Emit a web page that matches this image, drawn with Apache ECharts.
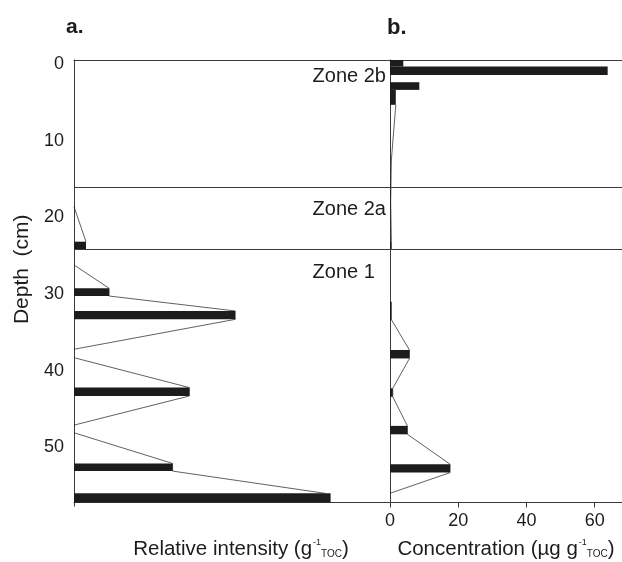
<!DOCTYPE html>
<html>
<head>
<meta charset="utf-8">
<script src="https://cdn.jsdelivr.net/npm/echarts@6/dist/echarts.min.js"></script>
<style>
html,body{margin:0;padding:0;background:#fff;}
#chart{width:622px;height:562px;}
</style>
</head>
<body>
<div id="chart"></div>
<script>
// ---- Data ----
const depthTicks = [0, 10, 20, 30, 40, 50];
const concTicks = [0, 20, 40, 60];

// Panel a: relative intensity bars (value, top depth, bottom depth)
const intensityValue  = [3.8, 11.1, 51.0, 36.5, 31.2, 81.2];
const intensityTop    = [23.16, 29.24, 32.2, 42.2, 52.1, 56.0];
const intensityBottom = [24.15, 30.25, 33.3, 43.3, 53.1, 57.2];

// Panel a: thin profile line segments [value, depth]
const intensityProfile = [
  [[0, 18.6], [3.8, 23.16]],
  [[0, 26.2], [11.1, 29.24], [11.1, 30.25], [51.0, 32.2], [51.0, 33.3], [0, 37.2]],
  [[0, 38.3], [36.5, 42.2], [36.5, 43.3], [0, 47.1]],
  [[0, 48.1], [31.2, 52.1], [31.2, 53.1], [79.4, 56.0]]
];

// Panel b: concentration bars (µg g-1 TOC)
const concValue  = [3.9, 63.8, 8.6, 1.7, 0.5, 0.5, 5.7, 0.8, 5.1, 17.6];
const concTop    = [-0.55, 0.31, 2.35, 3.35, 23.2, 31.0, 37.3, 42.3, 47.2, 52.2];
const concBottom = [0.31, 1.40, 3.35, 5.3, 24.15, 33.4, 38.4, 43.4, 48.3, 53.3];

// Panel b: thin profile line segments
const concProfile = [
  [[1.7, 5.3], [0.4, 12.5], [0.2, 18.0], [0.4, 23.2]],
  [[0.5, 33.4], [5.7, 37.3], [5.7, 38.4], [0.8, 42.3], [0.8, 43.4], [5.1, 47.2], [5.1, 48.3], [17.6, 52.2], [17.6, 53.3], [0, 56.0]]
];

// Zones
const zoneBounds = [16.1, 24.15];
const zoneNames = ['Zone 2b', 'Zone 2a', 'Zone 1'];
const zoneLabelDepths = [1.66, 18.9, 27.2];

// ---- Chart ----
const FONT = '"Liberation Sans", Arial, Helvetica, sans-serif';
const INK = '#1c1c1c';
const LINE = '#3a3a3a';
const DEPTH_MIN = -0.55, DEPTH_MAX = 57.2;

function barData(v, t, b) { return v.map((x, i) => [x, t[i], b[i]]); }

function renderBar(params, api) {
  const p0 = api.coord([0, api.value(1)]);
  const p1 = api.coord([api.value(0), api.value(2)]);
  return {
    type: 'rect',
    shape: { x: p0[0], y: p0[1], width: p1[0] - p0[0], height: p1[1] - p0[1] },
    style: { fill: INK }
  };
}

const zoneMarkLine = {
  silent: true, symbol: 'none', label: { show: false },
  lineStyle: { color: LINE, width: 1, type: 'solid' },
  data: zoneBounds.map(d => ({ yAxis: d }))
};

const series = [];
series.push({
  type: 'custom', xAxisIndex: 0, yAxisIndex: 0, renderItem: renderBar,
  encode: { x: 0, y: [1, 2] },
  data: barData(intensityValue, intensityTop, intensityBottom),
  markLine: zoneMarkLine, z: 3
});
intensityProfile.forEach(seg => series.push({
  type: 'line', xAxisIndex: 0, yAxisIndex: 0, data: seg, symbol: 'none',
  lineStyle: { color: INK, width: 0.7 }, silent: true, z: 2
}));
series.push({
  type: 'custom', xAxisIndex: 2, yAxisIndex: 1, renderItem: renderBar,
  encode: { x: 0, y: [1, 2] },
  data: barData(concValue, concTop, concBottom),
  markLine: zoneMarkLine, z: 3
});
concProfile.forEach(seg => series.push({
  type: 'line', xAxisIndex: 2, yAxisIndex: 1, data: seg, symbol: 'none',
  lineStyle: { color: INK, width: 0.7 }, silent: true, z: 2
}));
// zone labels
series.push({
  type: 'scatter', xAxisIndex: 0, yAxisIndex: 0, symbolSize: 0, silent: true,
  itemStyle: { opacity: 1 },
  data: zoneNames.map((n, i) => ({ name: n, value: [75.5, zoneLabelDepths[i]] })),
  label: { show: true, position: 'right', distance: 0, formatter: '{b}',
           fontFamily: FONT, fontSize: 20, color: INK, opacity: 1 },
  z: 5
});

const rich = {
  sup: { fontSize: 9, verticalAlign: 'top', fontFamily: FONT, color: INK, padding: [0, 0, 0, 1] },
  sub: { fontSize: 10, verticalAlign: 'bottom', fontFamily: FONT, color: INK }
};

const option = {
  backgroundColor: '#fff',
  animation: false,
  textStyle: { fontFamily: FONT },
  graphic: [
    { type: 'text', left: 66, top: 17, style: { text: 'a.', font: 'bold 21px ' + FONT, fill: INK } },
    { type: 'text', left: 387, top: 17, style: { text: 'b.', font: 'bold 22px ' + FONT, fill: INK } }
  ],
  grid: [
    { left: 74, top: 60, width: 316, height: 442.5, outerBoundsMode: 'none', containLabel: false },
    { left: 390, top: 60, width: 232, height: 442.5, outerBoundsMode: 'none', containLabel: false }
  ],
  xAxis: [
    { // a bottom
      gridIndex: 0, type: 'value', min: 0, max: 100, position: 'bottom',
      axisLine: { show: true, onZero: false, lineStyle: { color: LINE, width: 1 } },
      axisTick: { show: true, customValues: [0], length: 4, lineStyle: { color: LINE } },
      axisLabel: { show: false }, splitLine: { show: false },
      name: 'Relative intensity (g{sup|-1}{sub|TOC})',
      nameLocation: 'middle', nameGap: 36,
      nameTextStyle: { fontFamily: FONT, fontSize: 20.5, color: INK, padding: [0, 0, 0, 18], rich: rich }
    },
    { // a top border
      gridIndex: 0, type: 'value', min: 0, max: 100, position: 'top',
      axisLine: { show: true, onZero: false, lineStyle: { color: LINE, width: 1 } },
      axisTick: { show: false }, axisLabel: { show: false }, splitLine: { show: false }
    },
    { // b bottom
      gridIndex: 1, type: 'value', min: 0, max: 68, position: 'bottom',
      axisLine: { show: true, onZero: false, lineStyle: { color: LINE, width: 1 } },
      axisTick: { show: true, customValues: concTicks, length: 5, lineStyle: { color: LINE } },
      axisLabel: { show: true, customValues: concTicks, fontFamily: FONT, fontSize: 18, color: INK, margin: 10 },
      splitLine: { show: false },
      name: 'Concentration (\u00b5g g{sup|-1}{sub|TOC})',
      nameLocation: 'middle', nameGap: 36,
      nameTextStyle: { fontFamily: FONT, fontSize: 20.5, color: INK, rich: rich }
    },
    { // b top border
      gridIndex: 1, type: 'value', min: 0, max: 68, position: 'top',
      axisLine: { show: true, onZero: false, lineStyle: { color: LINE, width: 1 } },
      axisTick: { show: false }, axisLabel: { show: false }, splitLine: { show: false }
    }
  ],
  yAxis: [
    {
      gridIndex: 0, type: 'value', inverse: true, min: DEPTH_MIN, max: DEPTH_MAX,
      axisLine: { show: true, onZero: false, lineStyle: { color: LINE, width: 1 } },
      axisTick: { show: false },
      axisLabel: { show: true, customValues: depthTicks, fontFamily: FONT, fontSize: 18, color: INK, margin: 10, padding: [4, 0, 0, 0] },
      splitLine: { show: false },
      name: 'Depth  (cm)', nameLocation: 'middle', nameRotate: 90, nameGap: 40,
      nameTextStyle: { fontFamily: FONT, fontSize: 21, color: INK, padding: [0, 0, 0, 24] }
    },
    {
      gridIndex: 1, type: 'value', inverse: true, min: DEPTH_MIN, max: DEPTH_MAX,
      axisLine: { show: true, onZero: false, lineStyle: { color: LINE, width: 1 } },
      axisTick: { show: false }, axisLabel: { show: false }, splitLine: { show: false }
    }
  ],
  series: series
};

const chart = echarts.init(document.getElementById('chart'), null, { renderer: 'canvas' });
chart.setOption(option);
</script>
</body>
</html>
